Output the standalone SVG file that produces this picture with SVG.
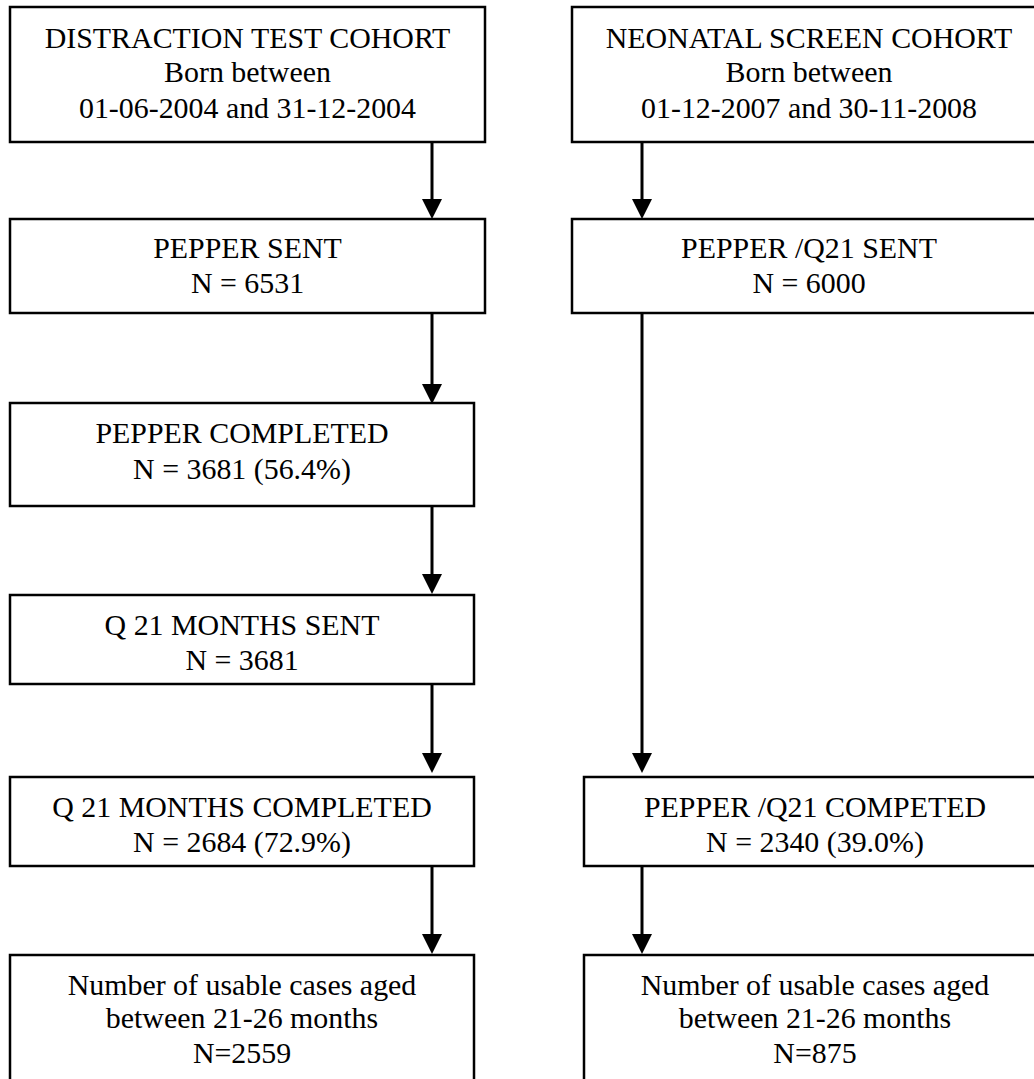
<svg xmlns="http://www.w3.org/2000/svg" width="1034" height="1079" viewBox="0 0 1034 1079">
<defs>
<style>
.box{fill:#fff;stroke:#000;stroke-width:2.5}
.t{font-family:"Liberation Serif","Times New Roman",serif;font-size:29.9px;fill:#000;text-anchor:middle}
.c{stroke:#000;stroke-width:3;fill:none}
</style>
<marker id="ah" markerUnits="userSpaceOnUse" markerWidth="20" markerHeight="20" viewBox="0 0 19 19" refX="0" refY="9.5" orient="auto">
<path d="M0,0 L19,9.5 L0,19 z" fill="#000"/>
</marker>
</defs>
<rect width="1034" height="1079" fill="#fff"/>
<g id="connectors">
<line class="c" x1="432" y1="142" x2="432" y2="199" marker-end="url(#ah)"/>
<line class="c" x1="432" y1="313" x2="432" y2="384" marker-end="url(#ah)"/>
<line class="c" x1="432" y1="506" x2="432" y2="574" marker-end="url(#ah)"/>
<line class="c" x1="432" y1="684" x2="432" y2="753" marker-end="url(#ah)"/>
<line class="c" x1="432" y1="866" x2="432" y2="934" marker-end="url(#ah)"/>
<line class="c" x1="642" y1="142" x2="642" y2="199" marker-end="url(#ah)"/>
<line class="c" x1="642" y1="313" x2="642" y2="753" marker-end="url(#ah)"/>
<line class="c" x1="642" y1="866" x2="642" y2="934" marker-end="url(#ah)"/>
</g>
<g id="dtc">
<rect class="box" x="10" y="7" width="475" height="135"/>
<text class="t" x="247.5" y="48">DISTRACTION TEST COHORT</text>
<text class="t" x="247.5" y="82">Born between</text>
<text class="t" x="247.5" y="118">01-06-2004 and 31-12-2004</text>
</g>
<g id="pepper-sent">
<rect class="box" x="10" y="219" width="475" height="94"/>
<text class="t" x="247.5" y="258">PEPPER SENT</text>
<text class="t" x="247.5" y="293">N = 6531</text>
</g>
<g id="pepper-completed">
<rect class="box" x="10" y="403" width="464" height="103"/>
<text class="t" x="242" y="443">PEPPER COMPLETED</text>
<text class="t" x="242" y="479">N = 3681 (56.4%)</text>
</g>
<g id="q21-sent">
<rect class="box" x="10" y="595" width="464" height="89"/>
<text class="t" x="242" y="635">Q 21 MONTHS SENT</text>
<text class="t" x="242" y="670">N = 3681</text>
</g>
<g id="q21-completed">
<rect class="box" x="10" y="777" width="464" height="89"/>
<text class="t" x="242" y="817">Q 21 MONTHS COMPLETED</text>
<text class="t" x="242" y="852">N = 2684 (72.9%)</text>
</g>
<g id="usable-left">
<rect class="box" x="10" y="955" width="464" height="130"/>
<text class="t" x="242" y="995">Number of usable cases aged</text>
<text class="t" x="242" y="1028">between 21-26 months</text>
<text class="t" x="242" y="1063">N=2559</text>
</g>
<g id="nsc">
<rect class="box" x="572" y="7" width="474" height="135"/>
<text class="t" x="809" y="48">NEONATAL SCREEN COHORT</text>
<text class="t" x="809" y="82">Born between</text>
<text class="t" x="809" y="118">01-12-2007 and 30-11-2008</text>
</g>
<g id="pq21-sent">
<rect class="box" x="572" y="219" width="474" height="94"/>
<text class="t" x="809" y="258">PEPPER /Q21 SENT</text>
<text class="t" x="809" y="293">N = 6000</text>
</g>
<g id="pq21-completed">
<rect class="box" x="584" y="777" width="462" height="89"/>
<text class="t" x="815" y="817">PEPPER /Q21 COMPETED</text>
<text class="t" x="815" y="852">N = 2340 (39.0%)</text>
</g>
<g id="usable-right">
<rect class="box" x="584" y="955" width="462" height="130"/>
<text class="t" x="815" y="995">Number of usable cases aged</text>
<text class="t" x="815" y="1028">between 21-26 months</text>
<text class="t" x="815" y="1063">N=875</text>
</g>
</svg>
